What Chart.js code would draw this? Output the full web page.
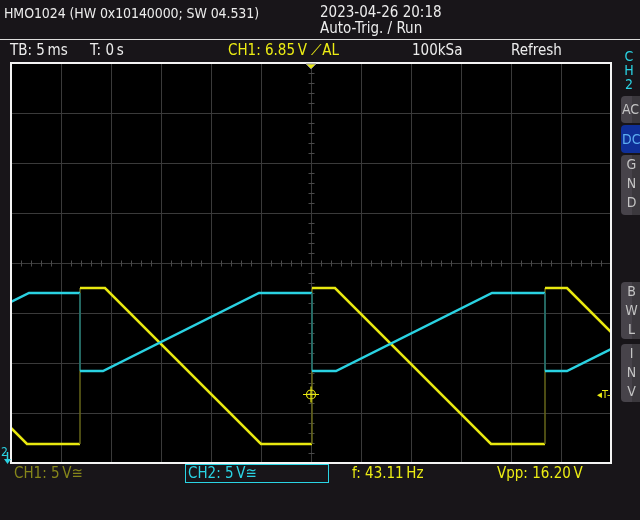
<!DOCTYPE html>
<html>
<head>
<meta charset="utf-8">
<script src="https://cdn.jsdelivr.net/npm/chart.js@4.4.1/dist/chart.umd.min.js"></script>
<style>
  body { margin: 0; background: #181519; }
  #scope {
    position: relative; width: 640px; height: 520px; overflow: hidden;
    background: #181519; color: #ececec;
    font-family: "DejaVu Sans Condensed", "DejaVu Sans", sans-serif;
    font-size: 15px; line-height: 15px;
  }
  #scope canvas { position: absolute; left: 0; top: 0; }
  .t { position: absolute; white-space: nowrap; }
  .yel { color: #ecec14; }
  .cyn { color: #2ad4e4; }
  .hline { position: absolute; left: 0; top: 39px; width: 640px; height: 1px; background: #dcdcdc; }
  .btn {
    position: absolute; left: 621px; width: 19px; overflow: hidden;
    background: linear-gradient(to right, #47434a 55%, #3b383d 55%);
    border-radius: 4px 0 0 4px; color: #c4c4c4; font-size: 14px; line-height: 19px;
    text-align: center; padding-left: 1px;
  }
  .btn.on { background: #0f2f98; color: #5eaef2; }
  .box { position: absolute; left: 185px; top: 464px; width: 142px; height: 17px; border: 1px solid #2ad4e4; }
</style>
</head>
<body>
<div id="scope">
  <canvas id="c" width="640" height="520"></canvas>

  <div class="t" style="left:4px;top:6px;font-size:14px;line-height:14px;letter-spacing:-0.1px">HMO1024 (HW 0x10140000; SW 04.531)</div>
  <div class="t" style="left:320px;top:5px">2023-04-26 20:18</div>
  <div class="t" style="left:320px;top:21px">Auto-Trig. / Run</div>
  <div class="hline"></div>

  <div class="t" style="left:10px;top:43px">TB: 5&#8201;ms</div>
  <div class="t" style="left:90px;top:43px">T: 0&#8201;s</div>
  <div class="t yel" style="left:228px;top:43px">CH1: 6.85&#8201;V &#10187;AL</div>
  <div class="t" style="left:412px;top:43px">100kSa</div>
  <div class="t" style="left:511px;top:43px">Refresh</div>

  <div class="t cyn" style="left:624px;top:49px;font-size:14px;line-height:14px;text-align:center;width:10px">C<br>H<br>2</div>
  <div class="btn" style="top:96px;height:27px;line-height:27px;text-align:left">AC</div>
  <div class="btn on" style="top:125px;height:28px;line-height:28px;text-align:left">DC</div>
  <div class="btn" style="top:155px;height:60px;padding-top:0">G<br>N<br>D</div>
  <div class="btn" style="top:282px;height:57px">B<br>W<br>L</div>
  <div class="btn" style="top:344px;height:58px">I<br>N<br>V</div>

  <div class="t yel" style="left:597px;top:389px;font-size:11px;line-height:11px">&#9666;T-</div>
  <div class="t cyn" style="left:1px;top:446px;font-size:12px;line-height:12px">2</div>

  <div class="t" style="left:14px;top:466px;color:#86861a">CH1: 5&#8201;V&#8773;</div>
  <div class="box"></div>
  <div class="t cyn" style="left:188px;top:466px">CH2: 5&#8201;V&#8773;</div>
  <div class="t yel" style="left:352px;top:466px">f: 43.11&#8201;Hz</div>
  <div class="t yel" style="left:497px;top:466px">Vpp: 16.20&#8201;V</div>
</div>

<script>
// timebase 5 ms/div, 12 divisions; vertical 5 V/div, 8 divisions
const timeTicks = [-30, -25, -20, -15, -10, -5, 0, 5, 10, 15, 20, 25, 30];
const voltTicks = [-20, -15, -10, -5, 0, 5, 10, 15, 20];

// CH1 (yellow), time in ms, volts
const ch1Time  = [-30, -28.4, -23.1, -23.1, -20.6, -5.0, 0.1, 0.1, 2.4, 18.0, 23.4, 23.4, 25.6, 30];
const ch1Volts = [3.5, 1.9, 1.9, 17.5, 17.5, 1.9, 1.9, 17.5, 17.5, 1.9, 1.9, 17.5, 17.5, 13.1];

// CH2 (cyan)
const ch2Time  = [-30, -28.2, -23.1, -23.1, -20.8, -5.2, 0.1, 0.1, 2.5, 18.1, 23.4, 23.4, 25.6, 30];
const ch2Volts = [15.1, 16.0, 16.0, 8.2, 8.2, 16.0, 16.0, 8.2, 8.2, 16.0, 16.0, 8.2, 8.2, 10.4];

// channel positions on screen (V) and trigger level
const ch1Pos = -20;
const ch2Pos = -19;
const trigLevel = 6.85;

const YEL = '#e8e810', YEL_DIM = '#66661a';
const CYN = '#2ad2e2', CYN_DIM = '#17707c';

const toPoints = (ts, vs, pos) => ts.map((t, i) => ({ x: t, y: vs[i] + pos }));

const scopeFrame = {
  id: 'scopeFrame',
  beforeDraw(chart) {
    const { ctx, chartArea: a } = chart;
    ctx.save();
    ctx.fillStyle = '#000';
    ctx.fillRect(a.left, a.top, a.right - a.left, a.bottom - a.top);
    ctx.restore();
  },
  beforeDatasetsDraw(chart) {
    // minor ticks on the centre cross
    const { ctx, scales: { x, y } } = chart;
    const cx = Math.round(x.getPixelForValue(0)) + 0.5;
    const cy = Math.round(y.getPixelForValue(0)) + 0.5;
    ctx.save();
    ctx.strokeStyle = '#4a4a4a';
    ctx.lineWidth = 1;
    ctx.beginPath();
    for (let t = timeTicks[0]; t <= timeTicks[timeTicks.length - 1]; t++) {
      if (t % 5 === 0) continue;
      const px = Math.round(x.getPixelForValue(t)) + 0.5;
      ctx.moveTo(px, cy - 3); ctx.lineTo(px, cy + 3);
    }
    for (let v = voltTicks[0]; v <= voltTicks[voltTicks.length - 1]; v++) {
      if (v % 5 === 0) continue;
      const py = Math.round(y.getPixelForValue(v)) + 0.5;
      ctx.moveTo(cx - 3, py); ctx.lineTo(cx + 3, py);
    }
    ctx.stroke();
    ctx.restore();
  },
  afterDatasetsDraw(chart) {
    const { ctx, chartArea: a, scales: { x, y } } = chart;
    ctx.save();
    // white frame
    ctx.strokeStyle = '#f4f4f4';
    ctx.lineWidth = 2;
    ctx.strokeRect(a.left, a.top, a.right - a.left, a.bottom - a.top);

    // trigger position marker
    const tx = x.getPixelForValue(0);
    ctx.fillStyle = YEL;
    ctx.strokeStyle = '#8a8a8a';
    ctx.lineWidth = 1;
    ctx.beginPath();
    ctx.moveTo(tx - 5, a.top + 1); ctx.lineTo(tx + 5, a.top + 1); ctx.lineTo(tx, a.top + 6);
    ctx.closePath(); ctx.fill(); ctx.stroke();

    // trigger level crosshair
    const ly = y.getPixelForValue(trigLevel + ch1Pos);
    ctx.strokeStyle = YEL;
    ctx.lineWidth = 1.2;
    ctx.beginPath();
    ctx.arc(tx, ly, 4.5, 0, Math.PI * 2);
    ctx.moveTo(tx - 8, ly); ctx.lineTo(tx + 8, ly);
    ctx.moveTo(tx, ly - 8); ctx.lineTo(tx, ly + 8);
    ctx.stroke();

    // CH2 ground arrow
    ctx.strokeStyle = CYN; ctx.fillStyle = CYN;
    ctx.lineWidth = 1.5;
    ctx.beginPath();
    ctx.moveTo(7.5, 452); ctx.lineTo(7.5, 460);
    ctx.stroke();
    ctx.beginPath();
    ctx.moveTo(4, 459); ctx.lineTo(11, 459); ctx.lineTo(7.5, 464);
    ctx.closePath(); ctx.fill();
    ctx.restore();
  }
};

const edge = (dim) => (c) => c.p0.parsed.x === c.p1.parsed.x ? dim : undefined;
const edgeW = (c) => c.p0.parsed.x === c.p1.parsed.x ? 1.5 : undefined;

new Chart(document.getElementById('c'), {
  type: 'scatter',
  data: {
    datasets: [
      {
        label: 'CH2',
        data: toPoints(ch2Time, ch2Volts, ch2Pos),
        showLine: true,
        borderColor: CYN,
        borderWidth: 2.5,
        pointRadius: 0,
        segment: { borderColor: edge(CYN_DIM), borderWidth: edgeW }
      },
      {
        label: 'CH1',
        data: toPoints(ch1Time, ch1Volts, ch1Pos),
        showLine: true,
        borderColor: YEL,
        borderWidth: 2.5,
        pointRadius: 0,
        segment: { borderColor: edge(YEL_DIM), borderWidth: edgeW }
      }
    ]
  },
  options: {
    responsive: false,
    animation: false,
    devicePixelRatio: 1,
    layout: { padding: { left: 11, top: 63, right: 29, bottom: 57 } },
    plugins: { legend: { display: false }, tooltip: { enabled: false } },
    scales: {
      x: {
        type: 'linear', min: timeTicks[0], max: timeTicks[timeTicks.length - 1],
        afterBuildTicks: (s) => { s.ticks = timeTicks.map(v => ({ value: v })); },
        ticks: { display: false },
        grid: { color: '#3a3a3a', lineWidth: 1, drawTicks: false },
        border: { display: false }
      },
      y: {
        type: 'linear', min: voltTicks[0], max: voltTicks[voltTicks.length - 1],
        afterBuildTicks: (s) => { s.ticks = voltTicks.map(v => ({ value: v })); },
        ticks: { display: false },
        grid: { color: '#3a3a3a', lineWidth: 1, drawTicks: false },
        border: { display: false }
      }
    }
  },
  plugins: [scopeFrame]
});
</script>
</body>
</html>
